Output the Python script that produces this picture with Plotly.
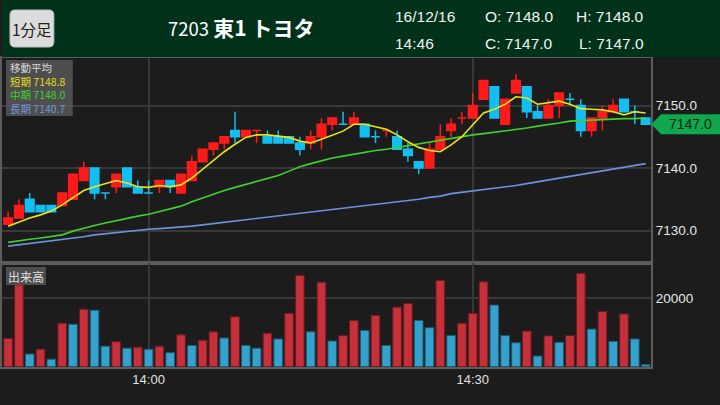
import plotly.graph_objects as go
import pandas as pd

# ---------------- data ----------------
times = pd.date_range("2016-12-16 13:47", periods=60, freq="min")

opens = [7131, 7132, 7135, 7134, 7134, 7134, 7135, 7138, 7140, 7136,
         7137, 7140, 7137, 7136, 7137, 7138, 7136, 7138, 7141, 7143,
         7144, 7146, 7145, 7146, 7145, 7145, 7145, 7144, 7144, 7145,
         7147, 7147, 7147, 7147, 7145, 7146, 7145, 7143, 7141, 7140,
         7143, 7146, 7148, 7148, 7151, 7153, 7147, 7152, 7153, 7149,
         7148, 7150, 7151, 7150, 7146, 7148, 7149, 7151, 7149, 7148]
highs = [7133, 7135, 7136, 7134, 7134, 7136, 7139, 7141, 7140, 7136,
         7139, 7140, 7138, 7138, 7138, 7138, 7139, 7142, 7143, 7144,
         7145, 7149, 7146, 7146, 7146, 7146, 7145, 7145, 7146, 7148,
         7148, 7149, 7149, 7147, 7146, 7146, 7146, 7144, 7141, 7144,
         7147, 7148, 7149, 7152, 7154, 7153, 7151, 7155, 7153, 7150,
         7151, 7152, 7152, 7151, 7148, 7150, 7151, 7151, 7150, 7148]
lows = [7131, 7132, 7133, 7133, 7133, 7134, 7135, 7138, 7135, 7135,
        7136, 7137, 7136, 7136, 7136, 7136, 7136, 7138, 7141, 7142,
        7143, 7144, 7145, 7144, 7144, 7144, 7144, 7142, 7143, 7143,
        7146, 7147, 7147, 7145, 7144, 7145, 7143, 7141, 7139, 7140,
        7143, 7145, 7147, 7148, 7151, 7148, 7147, 7152, 7148, 7148,
        7148, 7148, 7150, 7145, 7145, 7146, 7149, 7149, 7147, 7147]
closes = [7132, 7134, 7133, 7133, 7133, 7136, 7139, 7140, 7136, 7136,
          7139, 7137, 7136, 7136, 7138, 7137, 7139, 7141, 7143, 7144,
          7145, 7145, 7146, 7146, 7144, 7144, 7144, 7143, 7145, 7147,
          7148, 7147, 7148, 7145, 7145, 7146, 7143, 7142, 7140, 7143,
          7145, 7147, 7148, 7150, 7154, 7148, 7151, 7154, 7149, 7148,
          7150, 7152, 7151, 7146, 7148, 7149, 7150, 7149, 7149, 7147]

ma_short = [7130.7, 7131.4, 7132.0, 7132.5, 7133.1, 7134.1, 7135.3, 7136.4, 7137.0, 7137.5,
            7138.0, 7137.6, 7137.0, 7136.9, 7137.2, 7137.0, 7137.3, 7138.4, 7139.8, 7141.2,
            7142.6, 7143.8, 7144.9, 7145.3, 7145.3, 7145.1, 7144.9, 7144.3, 7144.0, 7144.6,
            7145.3, 7145.9, 7147.0, 7147.0, 7146.6, 7146.2, 7145.3, 7144.2, 7143.3, 7142.8,
            7142.6, 7143.7, 7145.0, 7146.9, 7148.8, 7149.4, 7150.2, 7151.4, 7151.2, 7150.2,
            7150.5, 7150.7, 7150.2, 7149.5, 7149.4, 7149.3, 7149.0, 7148.5, 7149.0, 7148.8]
ma_mid = [7128.1, 7128.4, 7128.6, 7128.8, 7129.0, 7129.3, 7129.9, 7130.4, 7130.8, 7131.2,
          7131.6, 7132.0, 7132.3, 7132.6, 7133.0, 7133.5, 7133.9, 7134.6, 7135.2, 7135.9,
          7136.4, 7136.9, 7137.4, 7137.9, 7138.4, 7138.8, 7139.5, 7140.2, 7140.7, 7141.2,
          7141.6, 7141.9, 7142.2, 7142.6, 7142.8, 7143.0, 7143.3, 7143.5, 7143.8, 7144.1,
          7144.4, 7144.7, 7145.1, 7145.3, 7145.5, 7145.7, 7146.0, 7146.2, 7146.4, 7146.7,
          7146.9, 7147.2, 7147.5, 7147.6, 7147.6, 7147.7, 7147.8, 7147.9, 7147.9, 7148.0]
ma_long = [7127.5, 7127.7, 7127.9, 7128.1, 7128.3, 7128.6, 7128.8, 7129.0, 7129.3, 7129.5,
           7129.7, 7129.9, 7130.0, 7130.2, 7130.3, 7130.4, 7130.5, 7130.7, 7130.9, 7131.1,
           7131.4, 7131.6, 7131.7, 7131.9, 7132.1, 7132.3, 7132.5, 7132.7, 7132.9, 7133.2,
           7133.4, 7133.6, 7133.8, 7134.0, 7134.2, 7134.4, 7134.6, 7134.8, 7135.0, 7135.3,
           7135.5, 7135.9, 7136.1, 7136.3, 7136.5, 7136.7, 7137.0, 7137.2, 7137.5, 7137.8,
           7138.0, 7138.3, 7138.6, 7138.9, 7139.2, 7139.5, 7139.8, 7140.1, 7140.4, 7140.7]

volumes = [8300, 23900, 3700, 5100, 2200, 12700, 12400, 16800, 16500, 6000,
           7300, 5400, 5700, 5100, 6000, 4100, 9300, 6200, 7700, 10200,
           8400, 14600, 6200, 5400, 9800, 8100, 15600, 26700, 10200, 24700,
           7500, 9100, 13500, 10600, 15000, 6200, 17400, 18500, 13500, 11400,
           25200, 9100, 12700, 15600, 24800, 18000, 9100, 7000, 10400, 3100,
           9000, 7100, 9100, 27300, 11000, 16100, 7400, 15400, 8100, 600]
vol_up = [1, 1, 0, 1, 0, 1, 0, 1, 0, 0,
          1, 0, 1, 0, 1, 0, 1, 0, 1, 1,
          0, 1, 0, 0, 1, 0, 1, 1, 0, 1,
          0, 1, 1, 0, 1, 0, 1, 1, 0, 0,
          1, 0, 1, 1, 1, 0, 0, 0, 1, 0,
          1, 0, 1, 1, 0, 1, 0, 1, 0, 0]

price_ticks = [7130, 7140, 7150]
vol_ticks = [20000]
time_ticks = ["2016-12-16 14:00", "2016-12-16 14:30"]

# ---------------- helpers ----------------
W, H = 720, 405
def X(px): return px / W
def Y(py): return 1 - py / H

BG = "#1c1c1c"
GRID = "#383838"
RED = "#ff1a1a"
CYAN = "#12bff2"
FONT = "Liberation Sans, Noto Sans CJK JP, sans-serif"
JFONT = "Noto Sans CJK JP, sans-serif"

fig = go.Figure()

fig.add_trace(go.Candlestick(
    x=times, open=opens, high=highs, low=lows, close=closes,
    increasing=dict(line=dict(color=RED, width=1.5), fillcolor=RED),
    decreasing=dict(line=dict(color=CYAN, width=1.5), fillcolor=CYAN),
    whiskerwidth=0, xaxis="x", yaxis="y", hoverinfo="skip", showlegend=False))

for vals, col in [(ma_long, "#6b93dc"), (ma_mid, "#3fd22c"), (ma_short, "#e9e31c")]:
    fig.add_trace(go.Scatter(x=times, y=vals, mode="lines",
                             line=dict(color=col, width=1.6),
                             xaxis="x", yaxis="y", hoverinfo="skip", showlegend=False))

fig.add_trace(go.Bar(
    x=times, y=volumes,
    marker=dict(color=["#c5303a" if u else "#34a2cc" for u in vol_up],
                line=dict(color=["#6e1a1e" if u else "#1b5a74" for u in vol_up], width=1)),
    xaxis="x2", yaxis="y2", hoverinfo="skip", showlegend=False))

xr = ["2016-12-16 13:46:26", "2016-12-16 14:46:31"]
axis_common = dict(showgrid=True, gridcolor=GRID, gridwidth=1.5, zeroline=False,
                   showline=True, linecolor="#5c5c5c", linewidth=1.5, mirror=True)

fig.update_layout(
    width=W, height=H, margin=dict(l=0, r=0, t=0, b=0),
    paper_bgcolor=BG, plot_bgcolor=BG,
    boxgap=0.2, boxgroupgap=0, bargap=0.2,
    xaxis=dict(domain=[0, X(651)], range=xr, type="date", anchor="y",
               tickvals=time_ticks, showticklabels=False,
               rangeslider=dict(visible=False), **axis_common),
    xaxis2=dict(domain=[0, X(651)], range=xr, type="date", anchor="y2", matches="x",
                tickvals=time_ticks, tickformat="%H:%M", ticks="",
                tickfont=dict(family=FONT, size=13, color="#e0e0e0"), **axis_common),
    yaxis=dict(domain=[Y(263), Y(58)], range=[7124.8, 7157.6], side="right", anchor="x",
               tickvals=price_ticks, tickformat=".1f", ticks="",
               tickfont=dict(family=FONT, size=13.5, color="#e6e6e6"), **axis_common),
    yaxis2=dict(domain=[Y(366.7), Y(263)], range=[0, 30300], side="right", anchor="x2",
                tickvals=vol_ticks, tickformat="d", ticks="",
                tickfont=dict(family=FONT, size=13.5, color="#e6e6e6"), **axis_common),
)

shapes = []
annos = []

def note(px, py, text, size, color, family=FONT, xanchor="center", xref="paper", yref="paper",
         y=None, yanchor="middle"):
    annos.append(dict(x=X(px), y=Y(py) if y is None else y, xref=xref, yref=yref, text=text,
                      showarrow=False, xanchor=xanchor, yanchor=yanchor, align="left",
                      font=dict(family=family, size=size, color=color)))

# header band
shapes.append(dict(type="rect", xref="paper", yref="paper", x0=0, x1=1, y0=Y(57), y1=1,
                   fillcolor="#00321a", line=dict(width=0), layer="above"))

# rounded button
def rrect(x0, y0, x1, y1, r):
    rx, ry = r / W, r / H
    a, b, c, d = X(x0), X(x1), Y(y1), Y(y0)
    return (f"M {a+rx},{c} L {b-rx},{c} Q {b},{c} {b},{c+ry} L {b},{d-ry} Q {b},{d} {b-rx},{d} "
            f"L {a+rx},{d} Q {a},{d} {a},{d-ry} L {a},{c+ry} Q {a},{c} {a+rx},{c} Z")
shapes.append(dict(type="path", xref="paper", yref="paper", path=rrect(8, 10, 52, 47, 5),
                   fillcolor="#dcdcdc", line=dict(color="#bdbdbd", width=1), layer="above"))
note(30, 28.5, "1分足", 15.5, "#222222", family=JFONT)
note(240, 27, "7203 <b><span style='font-size:21px'>東1 トヨタ</span></b>", 18.5, "#ffffff", family=JFONT)

last = len(times) - 1
hdr = [
    (392, 17, "left", times[last].strftime("%y/%m/%d")),
    (392, 43, "left", times[last].strftime("%H:%M")),
    (482, 17, "left", f"O: {opens[last]:.1f}"),
    (482, 43, "left", f"C: {closes[last]:.1f}"),
    (646, 17, "right", f"H: {highs[last]:.1f}"),
    (646, 43, "right", f"L: {lows[last]:.1f}"),
]
for px, py, al, t in hdr:
    note(px, py, t, 15.5, "#f2f2f2", xanchor=al)

# moving-average legend box (one multi-line annotation)
shapes.append(dict(type="rect", xref="paper", yref="paper", x0=X(4), x1=X(71), y0=Y(116), y1=Y(60),
                   fillcolor="rgba(95,95,95,0.75)", line=dict(width=0), layer="above"))
leg = [("短期", ma_short[-1], "#e5df1e"),
       ("中期", ma_mid[-1], "#3fd22c"),
       ("長期", ma_long[-1], "#7096dc")]
lines = ["<span style='color:#d8d8d8'>移動平均</span>"]
for name, v, col in leg:
    lines.append(f"<span style='color:{col}'>{name} {v:.1f}</span>")
note(6, 88, "<br>".join(lines), 10.5, "#d8d8d8", family=JFONT, xanchor="left")

# volume label box
shapes.append(dict(type="rect", xref="paper", yref="paper", x0=X(4), x1=X(44), y0=Y(285), y1=Y(267),
                   fillcolor="rgba(95,95,95,0.75)", line=dict(width=0), layer="above"))
note(24, 276, "出来高", 12, "#e0e0e0", family=JFONT)

# last price marker
c = closes[last]
hh = 1.6
shapes.append(dict(type="path", xref="paper", yref="y",
                   path=f"M {X(651)},{c} L {X(661)},{c+hh} L 1,{c+hh} L 1,{c-hh} L {X(661)},{c-hh} Z",
                   fillcolor="#10a84e", line=dict(width=0), layer="above"))
note(690, 0, f"{c:.1f}", 14, "#0b2413", yref="y", y=c)

fig.update_layout(shapes=shapes, annotations=annos)
fig.write_html("out.html", config={"displayModeBar": False},
               post_script="document.body.style.margin='0px';")
